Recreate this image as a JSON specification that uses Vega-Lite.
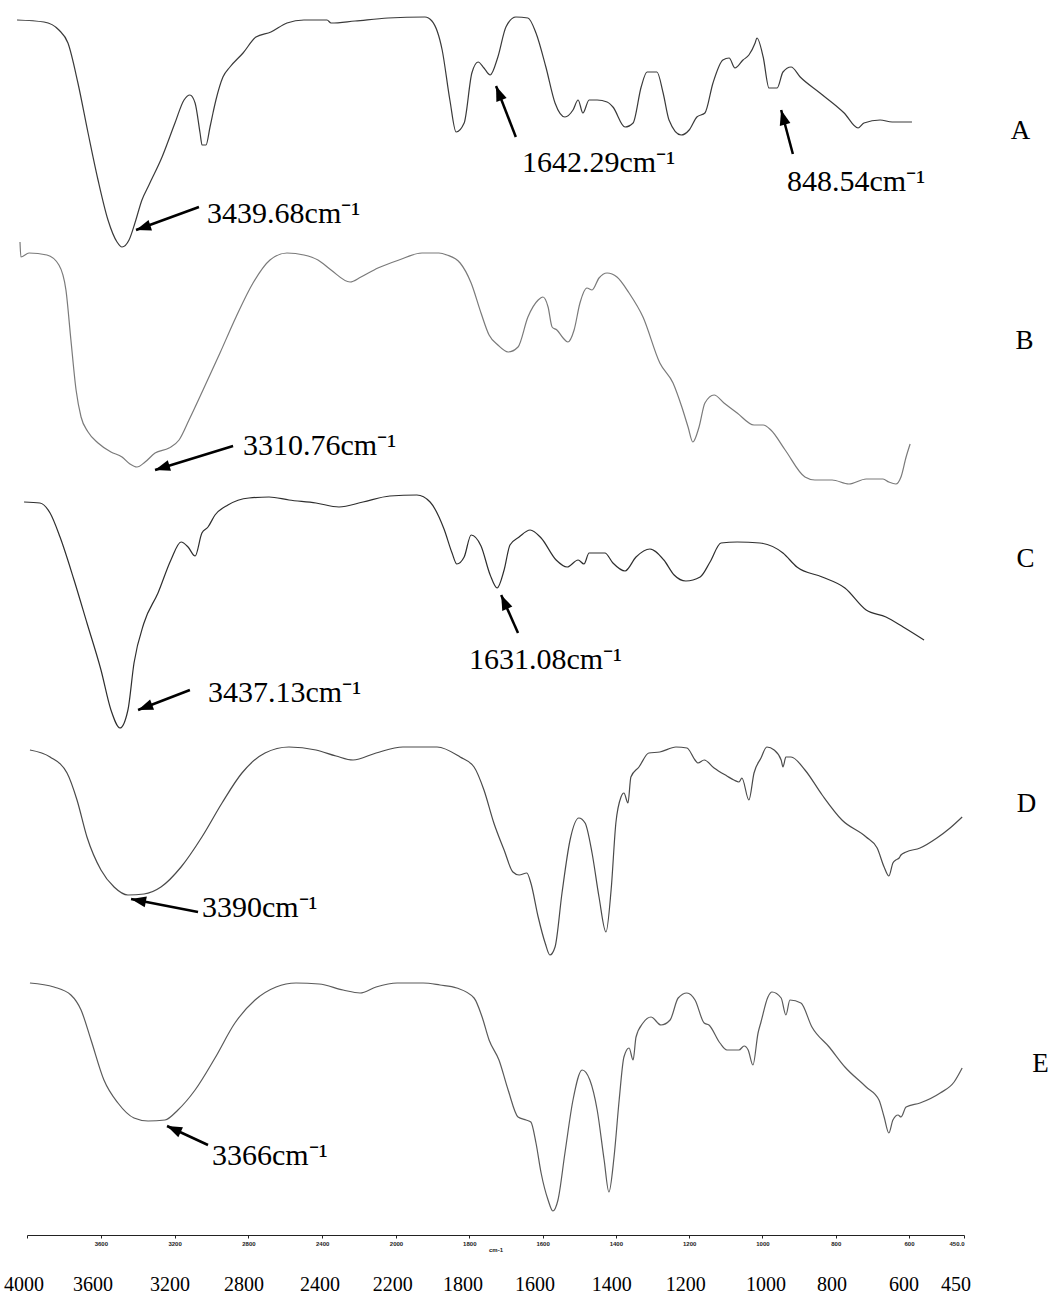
{
  "$schema": "https://vega.github.io/schema/vega-lite/v6.json",
  "background": "white",
  "padding": {"top": 10, "left": 0, "right": 5, "bottom": 0},
  "config": {"view": {"stroke": null}, "axis": {"grid": false}},
  "datasets": {
    "spectra": [
      {"s":"A","wn":4054,"t":115},{"s":"A","wn":3908,"t":114},{"s":"A","wn":3827,"t":110},{"s":"A","wn":3778,"t":103.5},{"s":"A","wn":3724,"t":83.5},{"s":"A","wn":3669,"t":58.5},{"s":"A","wn":3615,"t":35},{"s":"A","wn":3561,"t":15},{"s":"A","wn":3512,"t":4},{"s":"A","wn":3485,"t":1.5},{"s":"A","wn":3447,"t":5},{"s":"A","wn":3415,"t":13.5},{"s":"A","wn":3377,"t":25},{"s":"A","wn":3339,"t":32.5},{"s":"A","wn":3268,"t":46.5},{"s":"A","wn":3198,"t":63.5},{"s":"A","wn":3149,"t":75},{"s":"A","wn":3117,"t":77.5},{"s":"A","wn":3089,"t":73.5},{"s":"A","wn":3062,"t":58.5},{"s":"A","wn":3051,"t":52.5},{"s":"A","wn":3030,"t":52.5},{"s":"A","wn":3008,"t":61.5},{"s":"A","wn":2992,"t":68.5},{"s":"A","wn":2976,"t":75},{"s":"A","wn":2938,"t":86.5},{"s":"A","wn":2900,"t":91.5},{"s":"A","wn":2829,"t":98.5},{"s":"A","wn":2759,"t":106.5},{"s":"A","wn":2678,"t":109},{"s":"A","wn":2591,"t":113.5},{"s":"A","wn":2499,"t":115},{"s":"A","wn":2374,"t":115},{"s":"A","wn":2352,"t":113.5},{"s":"A","wn":2222,"t":114.5},{"s":"A","wn":2043,"t":116},{"s":"A","wn":1921,"t":116.5},{"s":"A","wn":1902,"t":114.5},{"s":"A","wn":1874,"t":100},{"s":"A","wn":1853,"t":75},{"s":"A","wn":1836,"t":59},{"s":"A","wn":1814,"t":63.5},{"s":"A","wn":1793,"t":88.5},{"s":"A","wn":1776,"t":94},{"s":"A","wn":1760,"t":91},{"s":"A","wn":1743,"t":87.5},{"s":"A","wn":1722,"t":96.5},{"s":"A","wn":1700,"t":111.5},{"s":"A","wn":1673,"t":116.5},{"s":"A","wn":1640,"t":116},{"s":"A","wn":1618,"t":108.5},{"s":"A","wn":1591,"t":91.5},{"s":"A","wn":1566,"t":73.5},{"s":"A","wn":1539,"t":66.5},{"s":"A","wn":1517,"t":70},{"s":"A","wn":1503,"t":75},{"s":"A","wn":1490,"t":68.5},{"s":"A","wn":1473,"t":75},{"s":"A","wn":1451,"t":75},{"s":"A","wn":1424,"t":74},{"s":"A","wn":1408,"t":71.5},{"s":"A","wn":1375,"t":61.5},{"s":"A","wn":1353,"t":63.5},{"s":"A","wn":1331,"t":81.5},{"s":"A","wn":1315,"t":89},{"s":"A","wn":1288,"t":89},{"s":"A","wn":1271,"t":78.5},{"s":"A","wn":1255,"t":65},{"s":"A","wn":1222,"t":57.5},{"s":"A","wn":1200,"t":60},{"s":"A","wn":1179,"t":66.5},{"s":"A","wn":1157,"t":68.5},{"s":"A","wn":1135,"t":83.5},{"s":"A","wn":1108,"t":95},{"s":"A","wn":1091,"t":96},{"s":"A","wn":1075,"t":91},{"s":"A","wn":1053,"t":95},{"s":"A","wn":1037,"t":97.5},{"s":"A","wn":1020,"t":103.5},{"s":"A","wn":1015,"t":106},{"s":"A","wn":998,"t":96.5},{"s":"A","wn":982,"t":81},{"s":"A","wn":960,"t":81},{"s":"A","wn":944,"t":89},{"s":"A","wn":922,"t":91.5},{"s":"A","wn":897,"t":86.5},{"s":"A","wn":843,"t":78.5},{"s":"A","wn":777,"t":68.5},{"s":"A","wn":739,"t":61},{"s":"A","wn":723,"t":63.5},{"s":"A","wn":679,"t":65},{"s":"A","wn":646,"t":64},{"s":"A","wn":592,"t":64},
      {"s":"B","wn":4038,"t":124},{"s":"B","wn":4033,"t":116.5},{"s":"B","wn":3989,"t":118.5},{"s":"B","wn":3892,"t":117.5},{"s":"B","wn":3827,"t":112.5},{"s":"B","wn":3789,"t":100},{"s":"B","wn":3762,"t":75},{"s":"B","wn":3734,"t":50},{"s":"B","wn":3707,"t":36.5},{"s":"B","wn":3669,"t":29},{"s":"B","wn":3615,"t":23.5},{"s":"B","wn":3545,"t":19},{"s":"B","wn":3485,"t":16.5},{"s":"B","wn":3442,"t":13},{"s":"B","wn":3404,"t":11.5},{"s":"B","wn":3360,"t":14},{"s":"B","wn":3306,"t":18.5},{"s":"B","wn":3230,"t":21},{"s":"B","wn":3176,"t":25},{"s":"B","wn":3122,"t":35},{"s":"B","wn":3046,"t":50},{"s":"B","wn":2954,"t":68.5},{"s":"B","wn":2867,"t":86.5},{"s":"B","wn":2775,"t":103.5},{"s":"B","wn":2683,"t":115},{"s":"B","wn":2591,"t":118.5},{"s":"B","wn":2499,"t":117.5},{"s":"B","wn":2423,"t":115},{"s":"B","wn":2352,"t":110},{"s":"B","wn":2249,"t":104},{"s":"B","wn":2190,"t":106.5},{"s":"B","wn":2098,"t":111},{"s":"B","wn":1992,"t":115},{"s":"B","wn":1929,"t":118.5},{"s":"B","wn":1883,"t":118.5},{"s":"B","wn":1861,"t":117.5},{"s":"B","wn":1825,"t":113.5},{"s":"B","wn":1795,"t":103.5},{"s":"B","wn":1768,"t":88.5},{"s":"B","wn":1746,"t":77.5},{"s":"B","wn":1722,"t":72.5},{"s":"B","wn":1694,"t":69},{"s":"B","wn":1667,"t":71.5},{"s":"B","wn":1640,"t":86.5},{"s":"B","wn":1612,"t":95},{"s":"B","wn":1599,"t":96.5},{"s":"B","wn":1585,"t":91.5},{"s":"B","wn":1574,"t":81.5},{"s":"B","wn":1561,"t":80},{"s":"B","wn":1544,"t":76},{"s":"B","wn":1531,"t":74},{"s":"B","wn":1514,"t":80},{"s":"B","wn":1498,"t":93.5},{"s":"B","wn":1479,"t":101},{"s":"B","wn":1465,"t":100},{"s":"B","wn":1446,"t":106},{"s":"B","wn":1424,"t":108.5},{"s":"B","wn":1397,"t":106.5},{"s":"B","wn":1364,"t":98.5},{"s":"B","wn":1326,"t":86.5},{"s":"B","wn":1280,"t":63.5},{"s":"B","wn":1244,"t":53.5},{"s":"B","wn":1220,"t":41.5},{"s":"B","wn":1203,"t":31.5},{"s":"B","wn":1190,"t":24},{"s":"B","wn":1173,"t":31.5},{"s":"B","wn":1157,"t":43.5},{"s":"B","wn":1132,"t":47.5},{"s":"B","wn":1105,"t":43.5},{"s":"B","wn":1069,"t":38.5},{"s":"B","wn":1023,"t":32.5},{"s":"B","wn":998,"t":32.5},{"s":"B","wn":977,"t":30},{"s":"B","wn":938,"t":20},{"s":"B","wn":884,"t":6.5},{"s":"B","wn":857,"t":5},{"s":"B","wn":810,"t":5},{"s":"B","wn":764,"t":3},{"s":"B","wn":717,"t":5.5},{"s":"B","wn":671,"t":5.5},{"s":"B","wn":655,"t":4},{"s":"B","wn":636,"t":3},{"s":"B","wn":622,"t":6.5},{"s":"B","wn":608,"t":16.5},{"s":"B","wn":597,"t":23},
      {"s":"C","wn":4016,"t":114},{"s":"C","wn":3930,"t":113.5},{"s":"C","wn":3875,"t":108.5},{"s":"C","wn":3821,"t":96.5},{"s":"C","wn":3745,"t":75},{"s":"C","wn":3675,"t":53.5},{"s":"C","wn":3599,"t":30},{"s":"C","wn":3545,"t":10},{"s":"C","wn":3496,"t":1},{"s":"C","wn":3453,"t":10},{"s":"C","wn":3420,"t":33.5},{"s":"C","wn":3366,"t":53.5},{"s":"C","wn":3290,"t":68.5},{"s":"C","wn":3220,"t":85},{"s":"C","wn":3165,"t":94},{"s":"C","wn":3127,"t":91.5},{"s":"C","wn":3089,"t":87},{"s":"C","wn":3052,"t":98.5},{"s":"C","wn":3019,"t":101.5},{"s":"C","wn":2981,"t":107.5},{"s":"C","wn":2911,"t":112.5},{"s":"C","wn":2797,"t":116},{"s":"C","wn":2688,"t":116.5},{"s":"C","wn":2580,"t":115},{"s":"C","wn":2434,"t":113.5},{"s":"C","wn":2309,"t":111.5},{"s":"C","wn":2179,"t":114},{"s":"C","wn":2033,"t":117},{"s":"C","wn":1943,"t":117.5},{"s":"C","wn":1907,"t":114},{"s":"C","wn":1869,"t":100.5},{"s":"C","wn":1847,"t":88.5},{"s":"C","wn":1834,"t":83},{"s":"C","wn":1814,"t":86.5},{"s":"C","wn":1795,"t":97.5},{"s":"C","wn":1768,"t":92},{"s":"C","wn":1743,"t":77.5},{"s":"C","wn":1724,"t":71},{"s":"C","wn":1705,"t":80},{"s":"C","wn":1689,"t":92.5},{"s":"C","wn":1664,"t":96.5},{"s":"C","wn":1634,"t":100},{"s":"C","wn":1604,"t":96},{"s":"C","wn":1563,"t":85},{"s":"C","wn":1533,"t":81.5},{"s":"C","wn":1503,"t":85},{"s":"C","wn":1487,"t":83},{"s":"C","wn":1473,"t":88.5},{"s":"C","wn":1430,"t":88.5},{"s":"C","wn":1408,"t":83.5},{"s":"C","wn":1375,"t":79.5},{"s":"C","wn":1345,"t":86.5},{"s":"C","wn":1307,"t":90.5},{"s":"C","wn":1269,"t":85},{"s":"C","wn":1241,"t":77.5},{"s":"C","wn":1209,"t":74.5},{"s":"C","wn":1170,"t":76.5},{"s":"C","wn":1143,"t":84},{"s":"C","wn":1113,"t":93.5},{"s":"C","wn":1069,"t":94},{"s":"C","wn":1007,"t":93.5},{"s":"C","wn":944,"t":88.5},{"s":"C","wn":906,"t":81.5},{"s":"C","wn":837,"t":76.5},{"s":"C","wn":775,"t":71},{"s":"C","wn":717,"t":60},{"s":"C","wn":663,"t":56.5},{"s":"C","wn":616,"t":51.5},{"s":"C","wn":559,"t":45},
      {"s":"D","wn":3984,"t":110},{"s":"D","wn":3875,"t":106.5},{"s":"D","wn":3783,"t":98.5},{"s":"D","wn":3729,"t":85},{"s":"D","wn":3675,"t":66.5},{"s":"D","wn":3599,"t":50},{"s":"D","wn":3528,"t":41.5},{"s":"D","wn":3453,"t":37.5},{"s":"D","wn":3366,"t":38},{"s":"D","wn":3274,"t":41.5},{"s":"D","wn":3165,"t":51.5},{"s":"D","wn":3052,"t":66.5},{"s":"D","wn":2943,"t":83.5},{"s":"D","wn":2835,"t":98.5},{"s":"D","wn":2710,"t":108.5},{"s":"D","wn":2580,"t":111.5},{"s":"D","wn":2434,"t":110},{"s":"D","wn":2325,"t":107},{"s":"D","wn":2233,"t":105},{"s":"D","wn":2108,"t":108.5},{"s":"D","wn":1981,"t":111.5},{"s":"D","wn":1888,"t":111.5},{"s":"D","wn":1825,"t":106.5},{"s":"D","wn":1787,"t":101.5},{"s":"D","wn":1760,"t":90},{"s":"D","wn":1733,"t":73.5},{"s":"D","wn":1705,"t":60},{"s":"D","wn":1681,"t":49},{"s":"D","wn":1664,"t":47.5},{"s":"D","wn":1643,"t":48.5},{"s":"D","wn":1632,"t":43.5},{"s":"D","wn":1612,"t":26.5},{"s":"D","wn":1593,"t":13.5},{"s":"D","wn":1580,"t":7.5},{"s":"D","wn":1566,"t":11.5},{"s":"D","wn":1547,"t":38.5},{"s":"D","wn":1525,"t":65},{"s":"D","wn":1501,"t":76},{"s":"D","wn":1484,"t":73.5},{"s":"D","wn":1465,"t":58.5},{"s":"D","wn":1446,"t":36.5},{"s":"D","wn":1427,"t":19},{"s":"D","wn":1413,"t":40},{"s":"D","wn":1400,"t":73.5},{"s":"D","wn":1386,"t":86.5},{"s":"D","wn":1378,"t":88.5},{"s":"D","wn":1367,"t":83.5},{"s":"D","wn":1359,"t":96.5},{"s":"D","wn":1337,"t":101.5},{"s":"D","wn":1310,"t":108.5},{"s":"D","wn":1280,"t":109},{"s":"D","wn":1236,"t":111.5},{"s":"D","wn":1206,"t":111},{"s":"D","wn":1184,"t":105},{"s":"D","wn":1176,"t":103.5},{"s":"D","wn":1159,"t":105},{"s":"D","wn":1132,"t":101},{"s":"D","wn":1097,"t":97},{"s":"D","wn":1078,"t":95},{"s":"D","wn":1064,"t":94},{"s":"D","wn":1056,"t":96},{"s":"D","wn":1037,"t":85},{"s":"D","wn":1023,"t":98.5},{"s":"D","wn":1004,"t":106},{"s":"D","wn":988,"t":111.5},{"s":"D","wn":968,"t":110},{"s":"D","wn":949,"t":105},{"s":"D","wn":944,"t":101.5},{"s":"D","wn":936,"t":106.5},{"s":"D","wn":922,"t":106.5},{"s":"D","wn":884,"t":100},{"s":"D","wn":837,"t":87.5},{"s":"D","wn":783,"t":75},{"s":"D","wn":717,"t":66.5},{"s":"D","wn":687,"t":61},{"s":"D","wn":668,"t":51.5},{"s":"D","wn":655,"t":47},{"s":"D","wn":644,"t":53.5},{"s":"D","wn":636,"t":55},{"s":"D","wn":627,"t":56},{"s":"D","wn":622,"t":57.5},{"s":"D","wn":608,"t":59},{"s":"D","wn":570,"t":61},{"s":"D","wn":524,"t":66},{"s":"D","wn":488,"t":71},{"s":"D","wn":455,"t":76.5},
      {"s":"E","wn":3984,"t":113.5},{"s":"E","wn":3854,"t":111.5},{"s":"E","wn":3762,"t":107.5},{"s":"E","wn":3707,"t":100},{"s":"E","wn":3653,"t":85},{"s":"E","wn":3583,"t":65},{"s":"E","wn":3507,"t":53.5},{"s":"E","wn":3420,"t":46},{"s":"E","wn":3344,"t":44.5},{"s":"E","wn":3252,"t":45},{"s":"E","wn":3182,"t":50},{"s":"E","wn":3089,"t":60},{"s":"E","wn":2981,"t":76},{"s":"E","wn":2873,"t":93.5},{"s":"E","wn":2764,"t":105},{"s":"E","wn":2650,"t":111.5},{"s":"E","wn":2542,"t":113.5},{"s":"E","wn":2417,"t":113},{"s":"E","wn":2287,"t":110},{"s":"E","wn":2195,"t":108.5},{"s":"E","wn":2108,"t":111.5},{"s":"E","wn":1997,"t":113.5},{"s":"E","wn":1926,"t":113.5},{"s":"E","wn":1880,"t":112.5},{"s":"E","wn":1834,"t":111},{"s":"E","wn":1787,"t":106},{"s":"E","wn":1765,"t":96.5},{"s":"E","wn":1746,"t":85},{"s":"E","wn":1719,"t":75},{"s":"E","wn":1694,"t":60},{"s":"E","wn":1667,"t":46.5},{"s":"E","wn":1645,"t":45},{"s":"E","wn":1632,"t":44},{"s":"E","wn":1618,"t":33.5},{"s":"E","wn":1604,"t":18.5},{"s":"E","wn":1585,"t":5},{"s":"E","wn":1572,"t":-0.5},{"s":"E","wn":1558,"t":5},{"s":"E","wn":1539,"t":28.5},{"s":"E","wn":1517,"t":55},{"s":"E","wn":1492,"t":70},{"s":"E","wn":1471,"t":65},{"s":"E","wn":1451,"t":50},{"s":"E","wn":1432,"t":25},{"s":"E","wn":1419,"t":9},{"s":"E","wn":1405,"t":26.5},{"s":"E","wn":1391,"t":55},{"s":"E","wn":1378,"t":76.5},{"s":"E","wn":1364,"t":81},{"s":"E","wn":1353,"t":75},{"s":"E","wn":1345,"t":86.5},{"s":"E","wn":1326,"t":93.5},{"s":"E","wn":1304,"t":96.5},{"s":"E","wn":1277,"t":92.5},{"s":"E","wn":1252,"t":95},{"s":"E","wn":1230,"t":106},{"s":"E","wn":1206,"t":108.5},{"s":"E","wn":1184,"t":105},{"s":"E","wn":1159,"t":93.5},{"s":"E","wn":1146,"t":92.5},{"s":"E","wn":1116,"t":83.5},{"s":"E","wn":1097,"t":80},{"s":"E","wn":1064,"t":80},{"s":"E","wn":1050,"t":82},{"s":"E","wn":1039,"t":80},{"s":"E","wn":1026,"t":72.5},{"s":"E","wn":1012,"t":88.5},{"s":"E","wn":1004,"t":94},{"s":"E","wn":985,"t":106.5},{"s":"E","wn":974,"t":109},{"s":"E","wn":949,"t":106},{"s":"E","wn":936,"t":97.5},{"s":"E","wn":925,"t":105},{"s":"E","wn":895,"t":103.5},{"s":"E","wn":865,"t":91.5},{"s":"E","wn":818,"t":81.5},{"s":"E","wn":775,"t":71.5},{"s":"E","wn":717,"t":61.5},{"s":"E","wn":682,"t":55},{"s":"E","wn":668,"t":46.5},{"s":"E","wn":655,"t":38.5},{"s":"E","wn":644,"t":45},{"s":"E","wn":630,"t":47.5},{"s":"E","wn":622,"t":46.5},{"s":"E","wn":608,"t":51.5},{"s":"E","wn":570,"t":53.5},{"s":"E","wn":515,"t":58.5},{"s":"E","wn":477,"t":64},{"s":"E","wn":455,"t":71}
    ],
    "notes": [
      {"id":"A1","s":"A","label":"3439.68cm⁻¹","tx":3024,"ty":18,"ax":3068,"ay":21.5,"bx":3409,"by":10},
      {"id":"A2","s":"A","label":"1642.29cm⁻¹","tx":1656,"ty":43.5,"ax":1673,"ay":56.5,"bx":1727,"by":82},
      {"id":"A3","s":"A","label":"848.54cm⁻¹","tx":933,"ty":34,"ax":917,"ay":48,"bx":949,"by":70},
      {"id":"B1","s":"B","label":"3310.76cm⁻¹","tx":2829,"ty":22,"ax":2883,"ay":22,"bx":3306,"by":10},
      {"id":"C1","s":"C","label":"3437.13cm⁻¹","tx":3019,"ty":18.5,"ax":3117,"ay":20,"bx":3398,"by":10},
      {"id":"C2","s":"C","label":"1631.08cm⁻¹","tx":1801,"ty":35,"ax":1667,"ay":48.5,"bx":1713,"by":67.5},
      {"id":"D1","s":"D","label":"3390cm⁻¹","tx":3052,"ty":31,"ax":3073,"ay":29,"bx":3436,"by":35.5},
      {"id":"E1","s":"E","label":"3366cm⁻¹","tx":2997,"ty":27,"ax":3019,"ay":32.5,"bx":3241,"by":42}
    ],
    "xlabels": [
      {"wn":4016,"label":"4000"},{"wn":3642,"label":"3600"},{"wn":3225,"label":"3200"},{"wn":2824,"label":"2800"},{"wn":2412,"label":"2400"},{"wn":2017,"label":"2200"},{"wn":1817,"label":"1800"},{"wn":1621,"label":"1600"},{"wn":1411,"label":"1400"},{"wn":1209,"label":"1200"},{"wn":990,"label":"1000"},{"wn":810,"label":"800"},{"wn":614,"label":"600"},{"wn":472,"label":"450"}
    ]
  },
  "vconcat": [
    {
      "width": 964, "height": 240,
      "layer": [
        {"data": {"name": "spectra"}, "transform": [{"filter": "datum.s === 'A'"}],
         "mark": {"type": "line", "color": "#3a3a3a", "strokeWidth": 1.2, "interpolate": "monotone"},
         "encoding": {
           "x": {"field": "wn", "type": "quantitative", "scale": {"domain": [4000, 2000, 450], "range": [27, 396, 964], "nice": false, "zero": false}, "axis": null},
           "y": {"field": "t", "type": "quantitative", "scale": {"domain": [0, 120], "nice": false, "zero": false},
                 "axis": {"orient": "right", "domain": false, "ticks": false, "labels": false, "grid": false, "title": "A", "titleAngle": 0, "titleFont": "Liberation Serif", "titleFontSize": 27, "titleFontWeight": "normal", "titleColor": "black", "titleAlign": "center", "titleBaseline": "middle", "titleX": 56, "titleY": 120}},
           "order": {"field": "wn", "sort": "descending"}}},
        {"data": {"name": "notes"}, "transform": [{"filter": "datum.s === 'A'"}],
         "mark": {"type": "rule", "color": "black", "strokeWidth": 2.5},
         "encoding": {
           "x": {"field": "ax", "type": "quantitative", "scale": {"domain": [4000, 2000, 450], "range": [27, 396, 964], "nice": false, "zero": false}, "axis": null},
           "y": {"field": "ay", "type": "quantitative", "scale": {"domain": [0, 120], "nice": false, "zero": false}},
           "x2": {"field": "bx"}, "y2": {"field": "by"}}},
        {"data": {"name": "notes"}, "transform": [{"filter": "datum.s === 'A'"}],
         "mark": {"type": "text", "align": "left", "baseline": "middle", "font": "Liberation Serif", "fontSize": 30, "color": "black"},
         "encoding": {
           "x": {"field": "tx", "type": "quantitative", "scale": {"domain": [4000, 2000, 450], "range": [27, 396, 964], "nice": false, "zero": false}, "axis": null},
           "y": {"field": "ty", "type": "quantitative", "scale": {"domain": [0, 120], "nice": false, "zero": false}},
           "text": {"field": "label"}}},
        {"data": {"name": "notes"}, "transform": [{"filter": "datum.id === 'A1'"}],
         "mark": {"type": "point", "shape": "M0,0L-0.55,1.5L0.55,1.5Z", "filled": true, "color": "black", "opacity": 1, "size": 400, "angle": 251.6, "strokeWidth": 0},
         "encoding": {
           "x": {"field": "bx", "type": "quantitative", "scale": {"domain": [4000, 2000, 450], "range": [27, 396, 964], "nice": false, "zero": false}, "axis": null},
           "y": {"field": "by", "type": "quantitative", "scale": {"domain": [0, 120], "nice": false, "zero": false}}}},
        {"data": {"name": "notes"}, "transform": [{"filter": "datum.id === 'A2'"}],
         "mark": {"type": "point", "shape": "M0,0L-0.55,1.5L0.55,1.5Z", "filled": true, "color": "black", "opacity": 1, "size": 400, "angle": 338.6, "strokeWidth": 0},
         "encoding": {
           "x": {"field": "bx", "type": "quantitative", "scale": {"domain": [4000, 2000, 450], "range": [27, 396, 964], "nice": false, "zero": false}, "axis": null},
           "y": {"field": "by", "type": "quantitative", "scale": {"domain": [0, 120], "nice": false, "zero": false}}}},
        {"data": {"name": "notes"}, "transform": [{"filter": "datum.id === 'A3'"}],
         "mark": {"type": "point", "shape": "M0,0L-0.55,1.5L0.55,1.5Z", "filled": true, "color": "black", "opacity": 1, "size": 400, "angle": 344.7, "strokeWidth": 0},
         "encoding": {
           "x": {"field": "bx", "type": "quantitative", "scale": {"domain": [4000, 2000, 450], "range": [27, 396, 964], "nice": false, "zero": false}, "axis": null},
           "y": {"field": "by", "type": "quantitative", "scale": {"domain": [0, 120], "nice": false, "zero": false}}}}
      ]
    },
    {
      "width": 964, "height": 240,
      "layer": [
        {"data": {"name": "spectra"}, "transform": [{"filter": "datum.s === 'B'"}],
         "mark": {"type": "line", "color": "#7a7a7a", "strokeWidth": 1.2, "interpolate": "monotone"},
         "encoding": {
           "x": {"field": "wn", "type": "quantitative", "scale": {"domain": [4000, 2000, 450], "range": [27, 396, 964], "nice": false, "zero": false}, "axis": null},
           "y": {"field": "t", "type": "quantitative", "scale": {"domain": [0, 120], "nice": false, "zero": false},
                 "axis": {"orient": "right", "domain": false, "ticks": false, "labels": false, "grid": false, "title": "B", "titleAngle": 0, "titleFont": "Liberation Serif", "titleFontSize": 27, "titleFontWeight": "normal", "titleColor": "black", "titleAlign": "center", "titleBaseline": "middle", "titleX": 60, "titleY": 90}},
           "order": {"field": "wn", "sort": "descending"}}},
        {"data": {"name": "notes"}, "transform": [{"filter": "datum.s === 'B'"}],
         "mark": {"type": "rule", "color": "black", "strokeWidth": 2.5},
         "encoding": {
           "x": {"field": "ax", "type": "quantitative", "scale": {"domain": [4000, 2000, 450], "range": [27, 396, 964], "nice": false, "zero": false}, "axis": null},
           "y": {"field": "ay", "type": "quantitative", "scale": {"domain": [0, 120], "nice": false, "zero": false}},
           "x2": {"field": "bx"}, "y2": {"field": "by"}}},
        {"data": {"name": "notes"}, "transform": [{"filter": "datum.s === 'B'"}],
         "mark": {"type": "text", "align": "left", "baseline": "middle", "font": "Liberation Serif", "fontSize": 30, "color": "black"},
         "encoding": {
           "x": {"field": "tx", "type": "quantitative", "scale": {"domain": [4000, 2000, 450], "range": [27, 396, 964], "nice": false, "zero": false}, "axis": null},
           "y": {"field": "ty", "type": "quantitative", "scale": {"domain": [0, 120], "nice": false, "zero": false}},
           "text": {"field": "label"}}},
        {"data": {"name": "notes"}, "transform": [{"filter": "datum.id === 'B1'"}],
         "mark": {"type": "point", "shape": "M0,0L-0.55,1.5L0.55,1.5Z", "filled": true, "color": "black", "opacity": 1, "size": 400, "angle": 252.9, "strokeWidth": 0},
         "encoding": {
           "x": {"field": "bx", "type": "quantitative", "scale": {"domain": [4000, 2000, 450], "range": [27, 396, 964], "nice": false, "zero": false}, "axis": null},
           "y": {"field": "by", "type": "quantitative", "scale": {"domain": [0, 120], "nice": false, "zero": false}}}}
      ]
    },
    {
      "width": 964, "height": 240,
      "layer": [
        {"data": {"name": "spectra"}, "transform": [{"filter": "datum.s === 'C'"}],
         "mark": {"type": "line", "color": "#2e2e2e", "strokeWidth": 1.2, "interpolate": "monotone"},
         "encoding": {
           "x": {"field": "wn", "type": "quantitative", "scale": {"domain": [4000, 2000, 450], "range": [27, 396, 964], "nice": false, "zero": false}, "axis": null},
           "y": {"field": "t", "type": "quantitative", "scale": {"domain": [0, 120], "nice": false, "zero": false},
                 "axis": {"orient": "right", "domain": false, "ticks": false, "labels": false, "grid": false, "title": "C", "titleAngle": 0, "titleFont": "Liberation Serif", "titleFontSize": 27, "titleFontWeight": "normal", "titleColor": "black", "titleAlign": "center", "titleBaseline": "middle", "titleX": 61, "titleY": 68}},
           "order": {"field": "wn", "sort": "descending"}}},
        {"data": {"name": "notes"}, "transform": [{"filter": "datum.s === 'C'"}],
         "mark": {"type": "rule", "color": "black", "strokeWidth": 2.5},
         "encoding": {
           "x": {"field": "ax", "type": "quantitative", "scale": {"domain": [4000, 2000, 450], "range": [27, 396, 964], "nice": false, "zero": false}, "axis": null},
           "y": {"field": "ay", "type": "quantitative", "scale": {"domain": [0, 120], "nice": false, "zero": false}},
           "x2": {"field": "bx"}, "y2": {"field": "by"}}},
        {"data": {"name": "notes"}, "transform": [{"filter": "datum.s === 'C'"}],
         "mark": {"type": "text", "align": "left", "baseline": "middle", "font": "Liberation Serif", "fontSize": 30, "color": "black"},
         "encoding": {
           "x": {"field": "tx", "type": "quantitative", "scale": {"domain": [4000, 2000, 450], "range": [27, 396, 964], "nice": false, "zero": false}, "axis": null},
           "y": {"field": "ty", "type": "quantitative", "scale": {"domain": [0, 120], "nice": false, "zero": false}},
           "text": {"field": "label"}}},
        {"data": {"name": "notes"}, "transform": [{"filter": "datum.id === 'C1'"}],
         "mark": {"type": "point", "shape": "M0,0L-0.55,1.5L0.55,1.5Z", "filled": true, "color": "black", "opacity": 1, "size": 400, "angle": 249, "strokeWidth": 0},
         "encoding": {
           "x": {"field": "bx", "type": "quantitative", "scale": {"domain": [4000, 2000, 450], "range": [27, 396, 964], "nice": false, "zero": false}, "axis": null},
           "y": {"field": "by", "type": "quantitative", "scale": {"domain": [0, 120], "nice": false, "zero": false}}}},
        {"data": {"name": "notes"}, "transform": [{"filter": "datum.id === 'C2'"}],
         "mark": {"type": "point", "shape": "M0,0L-0.55,1.5L0.55,1.5Z", "filled": true, "color": "black", "opacity": 1, "size": 400, "angle": 335.9, "strokeWidth": 0},
         "encoding": {
           "x": {"field": "bx", "type": "quantitative", "scale": {"domain": [4000, 2000, 450], "range": [27, 396, 964], "nice": false, "zero": false}, "axis": null},
           "y": {"field": "by", "type": "quantitative", "scale": {"domain": [0, 120], "nice": false, "zero": false}}}}
      ]
    },
    {
      "width": 964, "height": 240,
      "layer": [
        {"data": {"name": "spectra"}, "transform": [{"filter": "datum.s === 'D'"}],
         "mark": {"type": "line", "color": "#4a4a4a", "strokeWidth": 1.2, "interpolate": "monotone"},
         "encoding": {
           "x": {"field": "wn", "type": "quantitative", "scale": {"domain": [4000, 2000, 450], "range": [27, 396, 964], "nice": false, "zero": false}, "axis": null},
           "y": {"field": "t", "type": "quantitative", "scale": {"domain": [0, 120], "nice": false, "zero": false},
                 "axis": {"orient": "right", "domain": false, "ticks": false, "labels": false, "grid": false, "title": "D", "titleAngle": 0, "titleFont": "Liberation Serif", "titleFontSize": 27, "titleFontWeight": "normal", "titleColor": "black", "titleAlign": "center", "titleBaseline": "middle", "titleX": 62, "titleY": 73}},
           "order": {"field": "wn", "sort": "descending"}}},
        {"data": {"name": "notes"}, "transform": [{"filter": "datum.s === 'D'"}],
         "mark": {"type": "rule", "color": "black", "strokeWidth": 2.5},
         "encoding": {
           "x": {"field": "ax", "type": "quantitative", "scale": {"domain": [4000, 2000, 450], "range": [27, 396, 964], "nice": false, "zero": false}, "axis": null},
           "y": {"field": "ay", "type": "quantitative", "scale": {"domain": [0, 120], "nice": false, "zero": false}},
           "x2": {"field": "bx"}, "y2": {"field": "by"}}},
        {"data": {"name": "notes"}, "transform": [{"filter": "datum.s === 'D'"}],
         "mark": {"type": "text", "align": "left", "baseline": "middle", "font": "Liberation Serif", "fontSize": 30, "color": "black"},
         "encoding": {
           "x": {"field": "tx", "type": "quantitative", "scale": {"domain": [4000, 2000, 450], "range": [27, 396, 964], "nice": false, "zero": false}, "axis": null},
           "y": {"field": "ty", "type": "quantitative", "scale": {"domain": [0, 120], "nice": false, "zero": false}},
           "text": {"field": "label"}}},
        {"data": {"name": "notes"}, "transform": [{"filter": "datum.id === 'D1'"}],
         "mark": {"type": "point", "shape": "M0,0L-0.55,1.5L0.55,1.5Z", "filled": true, "color": "black", "opacity": 1, "size": 400, "angle": 281, "strokeWidth": 0},
         "encoding": {
           "x": {"field": "bx", "type": "quantitative", "scale": {"domain": [4000, 2000, 450], "range": [27, 396, 964], "nice": false, "zero": false}, "axis": null},
           "y": {"field": "by", "type": "quantitative", "scale": {"domain": [0, 120], "nice": false, "zero": false}}}}
      ]
    },
    {
      "width": 964, "height": 240,
      "layer": [
        {"data": {"name": "spectra"}, "transform": [{"filter": "datum.s === 'E'"}],
         "mark": {"type": "line", "color": "#5a5a5a", "strokeWidth": 1.2, "interpolate": "monotone"},
         "encoding": {
           "x": {"field": "wn", "type": "quantitative", "scale": {"domain": [4000, 2000, 450], "range": [27, 396, 964], "nice": false, "zero": false},
                 "axis": {"orient": "bottom", "offset": 25, "values": [4000, 3600, 3200, 2800, 2400, 2000, 1800, 1600, 1400, 1200, 1000, 800, 600, 450], "labelExpr": "datum.value == 4000 ? '' : (datum.value == 450 ? '450.0' : datum.value)", "labelFontSize": 6, "labelFont": "Liberation Sans", "labelFontWeight": "bold", "labelColor": "#222", "labelPadding": 2, "tickSize": 3, "tickColor": "#222", "domainColor": "#222", "domainWidth": 1, "grid": false, "title": "cm-1", "titleFontSize": 6, "titleFont": "Liberation Sans", "titleFontWeight": "bold", "titleColor": "#222", "titlePadding": 0}},
           "y": {"field": "t", "type": "quantitative", "scale": {"domain": [0, 120], "nice": false, "zero": false},
                 "axis": {"orient": "right", "domain": false, "ticks": false, "labels": false, "grid": false, "title": "E", "titleAngle": 0, "titleFont": "Liberation Serif", "titleFontSize": 27, "titleFontWeight": "normal", "titleColor": "black", "titleAlign": "center", "titleBaseline": "middle", "titleX": 76, "titleY": 93}},
           "order": {"field": "wn", "sort": "descending"}}},
        {"data": {"name": "notes"}, "transform": [{"filter": "datum.s === 'E'"}],
         "mark": {"type": "rule", "color": "black", "strokeWidth": 2.5},
         "encoding": {
           "x": {"field": "ax", "type": "quantitative", "scale": {"domain": [4000, 2000, 450], "range": [27, 396, 964], "nice": false, "zero": false}},
           "y": {"field": "ay", "type": "quantitative", "scale": {"domain": [0, 120], "nice": false, "zero": false}},
           "x2": {"field": "bx"}, "y2": {"field": "by"}}},
        {"data": {"name": "notes"}, "transform": [{"filter": "datum.s === 'E'"}],
         "mark": {"type": "text", "align": "left", "baseline": "middle", "font": "Liberation Serif", "fontSize": 30, "color": "black"},
         "encoding": {
           "x": {"field": "tx", "type": "quantitative", "scale": {"domain": [4000, 2000, 450], "range": [27, 396, 964], "nice": false, "zero": false}},
           "y": {"field": "ty", "type": "quantitative", "scale": {"domain": [0, 120], "nice": false, "zero": false}},
           "text": {"field": "label"}}},
        {"data": {"name": "notes"}, "transform": [{"filter": "datum.id === 'E1'"}],
         "mark": {"type": "point", "shape": "M0,0L-0.55,1.5L0.55,1.5Z", "filled": true, "color": "black", "opacity": 1, "size": 400, "angle": 294.9, "strokeWidth": 0},
         "encoding": {
           "x": {"field": "bx", "type": "quantitative", "scale": {"domain": [4000, 2000, 450], "range": [27, 396, 964], "nice": false, "zero": false}},
           "y": {"field": "by", "type": "quantitative", "scale": {"domain": [0, 120], "nice": false, "zero": false}}}},
        {"data": {"name": "xlabels"},
         "mark": {"type": "text", "align": "center", "baseline": "middle", "font": "Liberation Serif", "fontSize": 20, "color": "black"},
         "encoding": {
           "x": {"field": "wn", "type": "quantitative", "scale": {"domain": [4000, 2000, 450], "range": [27, 396, 964], "nice": false, "zero": false}},
           "y": {"datum": -37.5, "type": "quantitative", "scale": {"domain": [0, 120], "nice": false, "zero": false}},
           "text": {"field": "label"}}}
      ]
    }
  ],
  "spacing": 0,
  "bounds": "flush"
}
